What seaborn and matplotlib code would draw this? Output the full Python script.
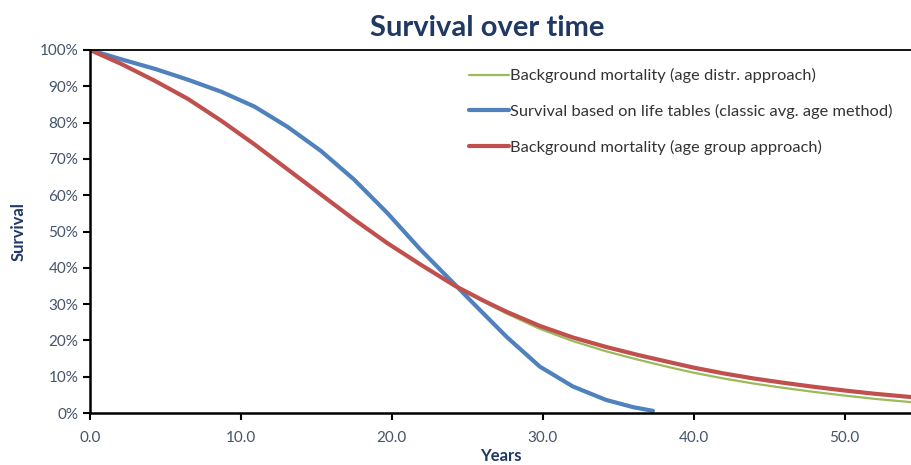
import matplotlib
matplotlib.use('Agg')
import matplotlib.pyplot as plt
import matplotlib.ticker as mticker
import pandas as pd
import seaborn as sns

# Dados (anos x sobrevivência em %)
years_green = [0, 2.1, 4.3, 6.5, 8.7, 10.9, 13.1, 15.3, 17.5, 19.7, 21.9, 24.2, 26.1, 27.6, 29.8, 32.0, 34.2, 36.3, 38.4, 40, 42, 44, 46, 48, 50, 52, 54.4]
green_values = [100, 96.1, 91.5, 86.5, 80.5, 74.0, 67.1, 60.2, 53.3, 46.8, 40.9, 35.0, 30.6, 27.4, 23.2, 19.8, 17.0, 14.7, 12.6, 11.1, 9.5, 8.1, 6.9, 5.8, 4.8, 3.9, 3.0]

years_blue = [0, 2.1, 4.3, 6.5, 8.7, 10.9, 13.1, 15.3, 17.5, 19.7, 21.9, 24.2, 25.4, 27.6, 29.8, 32.0, 34.2, 36.0, 37.3]
blue_values = [100, 97.4, 94.8, 91.8, 88.5, 84.4, 78.8, 72.2, 64.3, 55.1, 45.0, 35.3, 30.2, 21.0, 12.8, 7.3, 3.6, 1.6, 0.6]

years_red = [0, 2.1, 4.3, 6.5, 8.7, 10.9, 13.1, 15.3, 17.5, 19.7, 21.9, 24.2, 26.1, 27.6, 29.8, 32.0, 34.2, 36.3, 38.4, 40, 42, 44, 46, 48, 50, 52, 54.4]
red_values = [100, 96.1, 91.5, 86.5, 80.5, 74.0, 67.1, 60.2, 53.3, 46.8, 40.9, 35.0, 30.9, 27.9, 24.0, 20.8, 18.2, 16.0, 14.0, 12.5, 10.9, 9.5, 8.3, 7.2, 6.2, 5.3, 4.4]

labels = [
    'Background mortality (age distr. approach)',
    'Survival based on life tables (classic avg. age method)',
    'Background mortality (age group approach)',
]
x_ticks = [0, 10, 20, 30, 40, 50]
y_ticks = [0, 10, 20, 30, 40, 50, 60, 70, 80, 90, 100]

sns.set_style('white')
plt.rcParams['font.family'] = ['Lato', 'DejaVu Sans']

fig = plt.figure(figsize=(9.11, 4.65), dpi=100)
ax = fig.add_axes([0.0988, 0.1118, 0.9012, 0.7807])

series = [
    (years_green, green_values, labels[0], '#9BBB59', 1.6),
    (years_blue, blue_values, labels[1], '#4F81BD', 3.0),
    (years_red, red_values, labels[2], '#C0504D', 3.0),
]
for xs, ys, label, color, lw in series:
    df = pd.DataFrame({'Years': xs, 'Survival': ys})
    sns.lineplot(data=df, x='Years', y='Survival', ax=ax, color=color, linewidth=lw, label=label,
                 solid_joinstyle='round', solid_capstyle='round')

ax.set_xlim(0, 54.4)
ax.set_ylim(0, 100)
ax.set_xticks(x_ticks)
ax.set_yticks(y_ticks)
ax.xaxis.set_major_formatter(mticker.FormatStrFormatter('%.1f'))
ax.yaxis.set_major_formatter(mticker.FuncFormatter(lambda v, p: f'{int(v)}%'))

tick_color = '#44546A'
ax.tick_params(axis='both', direction='out', length=5, width=1.5, color='black',
               labelcolor=tick_color, labelsize=11, bottom=True, left=True)
ax.tick_params(axis='x', pad=8)

for side in ['left', 'bottom']:
    ax.spines[side].set_color('black')
    ax.spines[side].set_linewidth(1.8)
ax.spines['top'].set_color('black')
ax.spines['top'].set_linewidth(1.3)
ax.spines['right'].set_visible(False)

ax.set_xlabel('Years', fontsize=12, fontweight='bold', color='#1F3864', labelpad=2)
ax.set_ylabel('Survival', fontsize=12, fontweight='bold', color='#1F3864', labelpad=9)
fig.suptitle('Survival over time', fontsize=21, fontweight='bold', color='#1F3864', x=0.535, y=0.968)

leg = ax.legend(loc='upper left', bbox_to_anchor=(0.444, 0.99), frameon=False, fontsize=11.8,
                handlelength=2.4, handletextpad=0.1, labelspacing=1.25)
for text in leg.get_texts():
    text.set_color('#333333')

fig.savefig('out.png', dpi=100)
